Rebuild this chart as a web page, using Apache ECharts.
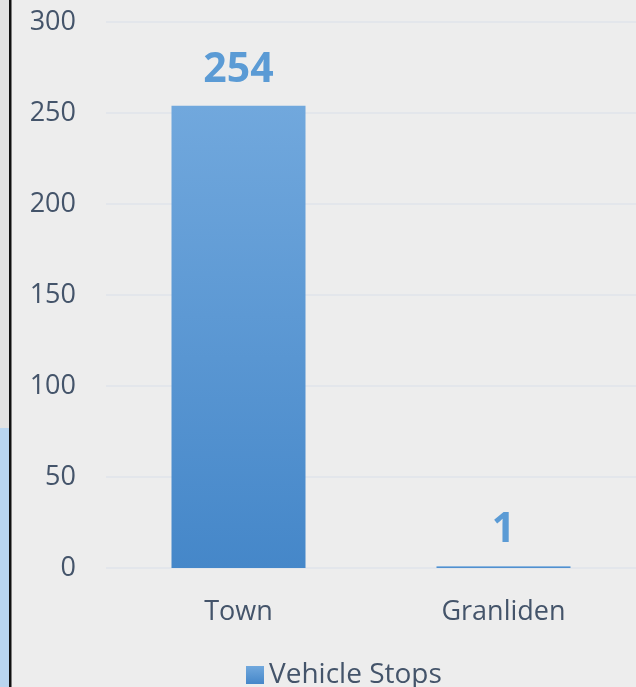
<!DOCTYPE html>
<html>
<head>
<meta charset="utf-8">
<script src="https://cdn.jsdelivr.net/npm/echarts@6/dist/echarts.min.js"></script>
<style>
html,body{margin:0;padding:0;background:#ededed;}
#chart{width:636px;height:687px;}
</style>
</head>
<body>
<div id="chart"></div>
<script>
// data
var categories = ['Town', 'Granliden'];
var stops = [254, 1];
var seriesName = 'Vehicle Stops';

var chart = echarts.init(document.getElementById('chart'));

var barColor = new echarts.graphic.LinearGradient(0, 0, 0, 1, [
    {offset: 0, color: '#71a8dd'},
    {offset: 1, color: '#4587c9'}
]);

var option = {
    backgroundColor: '#ededed',
    textStyle: {fontFamily: 'Open Sans'},
    animation: false,
    // left edge bits (neighbouring slide pieces)
    graphic: [
        {type: 'rect', left: 0, top: 0, shape: {width: 10, height: 428}, style: {fill: '#e2e2e2'}},
        {type: 'rect', left: 0, top: 428, shape: {width: 10, height: 259}, style: {fill: '#b9d5ef'}},
        {type: 'rect', left: 9, top: 0, shape: {width: 2.5, height: 687}, style: {fill: '#111'}}
    ],
    grid: {left: 106, right: -2, top: 22, bottom: 119},
    legend: {
        data: [seriesName],
        left: 241, top: 656,
        icon: 'rect', itemWidth: 18, itemHeight: 18, itemGap: 8,
        textStyle: {fontSize: 28, color: '#44546a', fontFamily: 'Open Sans'}
    },
    xAxis: {
        type: 'category',
        data: categories,
        axisLine: {show: false},
        axisTick: {show: false},
        axisLabel: {fontSize: 27, color: '#44546a', margin: 31}
    },
    yAxis: {
        type: 'value',
        min: 0, max: 300, interval: 50,
        axisLine: {show: false},
        axisTick: {show: false},
        axisLabel: {fontSize: 27, color: '#44546a', margin: 30},
        splitLine: {lineStyle: {color: '#dfe3ea', width: 1.5}}
    },
    series: [{
        name: seriesName,
        type: 'bar',
        data: stops,
        barWidth: 134,
        itemStyle: {color: barColor},
        label: {
            show: true, position: 'top', distance: 15,
            fontSize: 41, fontWeight: 'bold', color: '#5b9bd5',
            fontFamily: 'Open Sans'
        }
    }]
};
chart.setOption(option);
</script>
</body>
</html>
